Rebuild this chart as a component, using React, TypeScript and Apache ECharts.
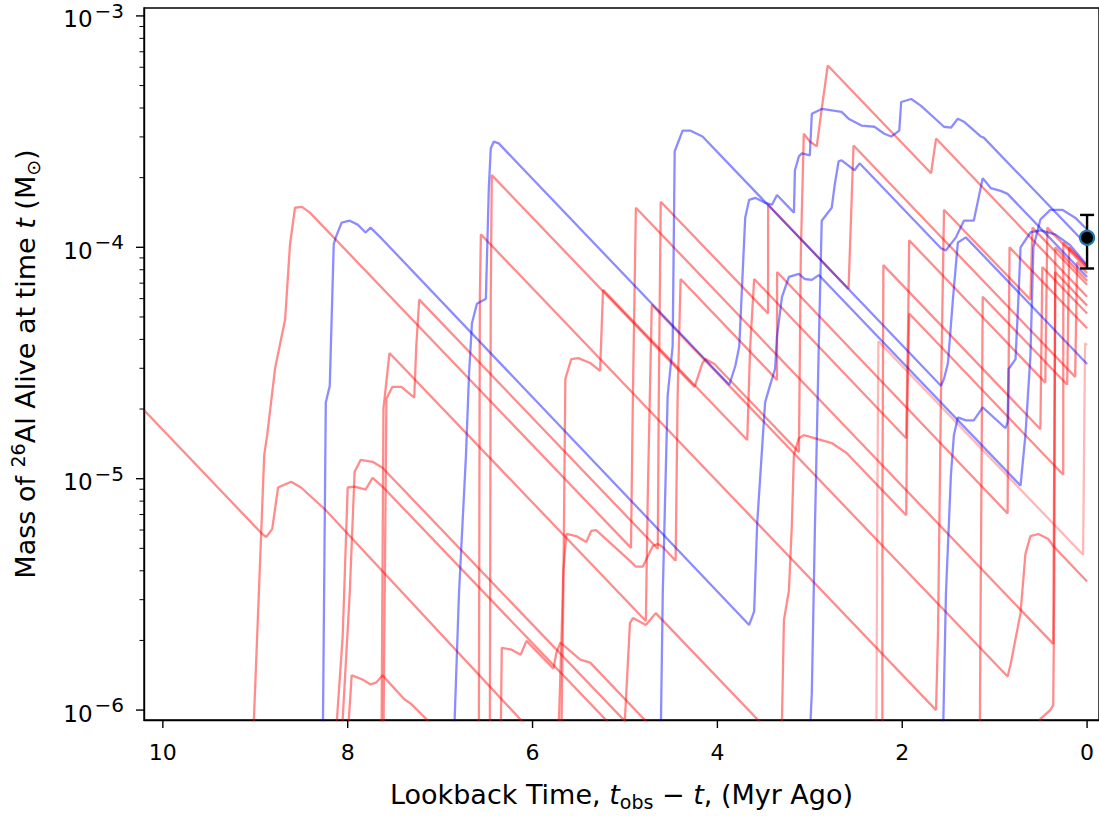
import React, { useEffect, useRef } from "react";
import * as echarts from "echarts";

// Each track: [lookback time t_obs - t (Myr), log10 of 26Al mass alive (Msun)]
const red01 = [[10.2,-4.705],[8.925,-5.239],[8.882,-5.252],[8.817,-5.218],[8.753,-5.038],[8.613,-5.013],[8.505,-5.038],[8.247,-5.132],[5.957,-6.115]];
const red02 = [[9.022,-6.115],[8.903,-4.897],[8.871,-4.812],[8.785,-4.521],[8.677,-4.312],[8.624,-3.987],[8.57,-3.829],[8.495,-3.825],[8.409,-3.85],[4.935,-5.299],[4.914,-4.641],[4.882,-3.829],[0.366,-5.714],[0.355,-4.855],[0.344,-4.107],[0,-4.252]];
const red03 = [[8.129,-6.115],[8.054,-5.679],[8.0,-5.038],[7.925,-5.034],[7.806,-5.047],[7.731,-4.996],[7.624,-5.034],[5.032,-6.115]];
const red04 = [[8.065,-6.115],[7.978,-5.496],[7.925,-4.97],[7.86,-4.919],[7.731,-4.927],[7.624,-4.953],[4.839,-6.115]];
const red05 = [[7.634,-6.115],[7.613,-4.697],[7.548,-4.457],[4.774,-5.615],[4.753,-5.068],[4.71,-4.248],[0.86,-5.855],[0.828,-5.803],[0.72,-5.581],[0.667,-5.325],[0.613,-5.248],[0.527,-5.239],[0.419,-5.261],[0.366,-5.291],[0,-5.444]];
const red06 = [[8.0,-6.115],[7.957,-5.85],[7.839,-5.868],[7.753,-5.889],[7.688,-5.88],[7.624,-5.85],[7.387,-5.953],[7.312,-5.974],[6.957,-6.115]];
const red07 = [[6.581,-6.115],[6.57,-4.214],[6.559,-3.944],[1.634,-6.0],[1.613,-5.667],[1.581,-4.641],[1.548,-3.838],[0.613,-4.226],[0.591,-3.915],[0,-4.162]];
const red08 = [[6.462,-6.115],[6.452,-4.214],[6.441,-3.688],[4.247,-4.603],[4.161,-4.5],[4.129,-4.483],[4.032,-4.504],[3.118,-4.885],[3.097,-4.021],[3.065,-3.509],[3.0,-3.543],[2.925,-3.564],[2.871,-3.402],[2.806,-3.214],[1.688,-3.68],[1.634,-3.53],[0,-4.214]];
const red09 = [[5.688,-6.115],[5.667,-5.496],[5.645,-4.568],[5.581,-4.483],[5.505,-4.479],[5.376,-4.5],[5.269,-4.534],[5.237,-4.184],[3.677,-4.833],[3.645,-4.427],[3.602,-4.137],[1.957,-4.825],[1.935,-4.299],[1.925,-3.97],[0.452,-4.585],[0.43,-3.915],[0,-4.094]];
const red10 = [[7.613,-6.115],[7.581,-4.654],[7.516,-4.603],[7.419,-4.603],[7.28,-4.65],[7.258,-4.427],[7.226,-4.226],[4.645,-5.303],[4.634,-4.641],[4.613,-3.803],[3.452,-4.286],[3.451,-3.816],[2.581,-4.18],[2.527,-3.56],[0.129,-4.56],[0.108,-4.064],[0,-4.111]];
const red11 = [[5.72,-6.115],[5.688,-5.709],[5.667,-5.397],[5.634,-5.239],[5.527,-5.248],[5.419,-5.274],[5.366,-5.226],[5.312,-5.222],[4.946,-5.355],[4.882,-5.38],[4.806,-5.38],[4.699,-5.291],[4.645,-5.282],[4.591,-5.295],[4.452,-5.355],[4.43,-4.641],[4.398,-4.137],[3.355,-4.573],[3.354,-4.107],[0.86,-5.15],[0.839,-4.0],[0,-4.35]];
const red12 = [[6.344,-6.115],[6.333,-5.731],[6.226,-5.739],[6.129,-5.761],[6.065,-5.701],[5.774,-5.821],[5.742,-5.752],[5.699,-5.709],[5.484,-5.782],[5.376,-5.795],[4.613,-6.115]];
const red13 = [[5.022,-6.115],[5.0,-6.038],[4.946,-5.624],[4.914,-5.602],[4.774,-5.632],[4.667,-5.581],[3.387,-6.115]];
const red14 = [[3.312,-6.115],[3.301,-6.038],[3.28,-5.611],[3.226,-5.483],[3.194,-5.197],[3.172,-4.897],[3.118,-4.825],[3.065,-4.812],[2.978,-4.821],[2.763,-4.846],[2.602,-4.889],[1.957,-5.158],[1.946,-4.726],[1.925,-4.286],[0.258,-4.983],[0.257,-3.979],[0,-4.085]];
const red15 = [[0.527,-6.115],[0.505,-6.038],[0.398,-6.0],[0.366,-5.979],[0.355,-5.496],[0.344,-4.0],[0,-4.145]];
const red16 = [[2.215,-6.115],[2.214,-5.068],[2.204,-4.077],[0.505,-4.786],[0.484,-4.085],[0,-4.286]];
const red17 = [[1.161,-6.115],[1.151,-5.496],[1.129,-4.214],[0.215,-4.594],[0.194,-4.0],[0,-4.081]];
const faint01 = [[2.28,-6.115],[2.269,-5.068],[2.258,-4.406],[0.043,-5.329],[0.022,-4.415],[0,-4.423]];

const blue01 = [[8.269,-6.115],[8.237,-4.671],[8.194,-4.598],[8.151,-3.987],[8.129,-3.957],[8.065,-3.893],[7.978,-3.885],[7.892,-3.902],[7.806,-3.936],[7.753,-3.915],[7.624,-3.966],[3.656,-5.632],[3.602,-5.573],[3.57,-5.197],[3.484,-4.671],[3.441,-4.611],[3.376,-4.526],[3.355,-4.385],[3.301,-4.214],[3.226,-4.128],[3.118,-4.115],[3.054,-4.137],[2.978,-4.141],[2.903,-4.12],[0.72,-5.03],[0.667,-4.812],[0.613,-4.47],[0.581,-4.0],[0.505,-3.88],[0.398,-3.838],[0.269,-3.838],[0.129,-3.872],[0,-3.923]];
const blue02 = [[6.849,-6.115],[6.796,-5.496],[6.72,-4.897],[6.688,-4.556],[6.656,-4.329],[6.602,-4.244],[6.505,-4.222],[6.473,-3.744],[6.452,-3.573],[6.419,-3.543],[6.366,-3.551],[3.871,-4.594],[3.806,-4.513],[3.763,-4.427],[3.699,-3.872],[3.656,-3.795],[3.591,-3.786],[3.484,-3.808],[3.409,-3.816],[3.355,-3.774],[3.172,-3.85],[3.161,-3.667],[3.118,-3.607],[3.086,-3.594],[3.0,-3.603],[2.978,-3.423],[2.871,-3.402],[2.656,-3.415],[2.581,-3.444],[2.441,-3.474],[2.301,-3.479],[2.194,-3.509],[2.118,-3.521],[2.032,-3.496],[2.011,-3.372],[1.903,-3.359],[1.796,-3.389],[1.548,-3.479],[1.473,-3.483],[1.398,-3.444],[1.333,-3.457],[1.151,-3.521],[1.118,-3.526],[0,-3.991]];
const blue03 = [[3.0,-6.115],[2.978,-5.923],[2.946,-5.239],[2.903,-4.427],[2.871,-3.885],[2.763,-3.829],[2.731,-3.731],[2.688,-3.628],[2.656,-3.624],[2.516,-3.667],[2.462,-3.637],[1.581,-4.004],[1.527,-4.013],[1.419,-3.957],[1.333,-3.885],[1.226,-3.885],[1.129,-3.701],[1.043,-3.744],[0.935,-3.756],[0.86,-3.769],[0,-4.128]];
const blue04 = [[4.613,-6.115],[4.591,-5.496],[4.538,-4.641],[4.484,-4.427],[4.462,-3.585],[4.376,-3.496],[4.29,-3.496],[4.161,-3.521],[1.581,-4.598],[1.548,-4.568],[1.505,-4.5],[1.452,-4.226],[1.398,-3.979],[1.312,-3.957],[0.86,-4.145],[0,-4.504]];
const blue05 = [[1.559,-6.115],[1.527,-5.496],[1.473,-4.983],[1.441,-4.812],[1.398,-4.735],[1.312,-4.748],[1.226,-4.748],[1.129,-4.692],[0.882,-4.782],[0.86,-4.756],[0.849,-4.526],[0.774,-4.483],[0.742,-4.214],[0.72,-4.0],[0.613,-3.936],[0.505,-3.927],[0.344,-3.944],[0.183,-3.991],[0,-4.077]];

const redTracks = [red01, red02, red03, red04, red05, red06, red07, red08, red09, red10, red11, red12, red13, red14, red15, red16, red17];
const faintTracks = [faint01];
const blueTracks = [blue01, blue02, blue03, blue04, blue05];

// Observed 26Al mass with error bar (Msun) at t_obs - t = 0: [t, value, low, high]
const observed = [[0, 1.1e-4, 8.1e-5, 1.38e-4]];

const xTicks = [0, 2, 4, 6, 8, 10];
const xRange = [-0.129, 10.204];
const yRange = [9.06e-7, 1.082e-3];
const yMajorTicks = [1e-6, 1e-5, 1e-4, 1e-3];
const yMinorTicks = [
  2e-6, 3e-6, 4e-6, 5e-6, 6e-6, 7e-6, 8e-6, 9e-6,
  2e-5, 3e-5, 4e-5, 5e-5, 6e-5, 7e-5, 8e-5, 9e-5,
  2e-4, 3e-4, 4e-4, 5e-4, 6e-4, 7e-4, 8e-4, 9e-4,
];

const FONT = "DejaVu Sans";
const ALPHA = 0.45;

export default function App() {
  const ref = useRef<HTMLDivElement>(null);

  useEffect(() => {
    const chart = echarts.init(ref.current as HTMLDivElement, null, { renderer: "svg" });

    const track = (pts: number[][], color: string, opacity: number) => ({
      type: "line",
      data: pts.map(([t, lg]) => [t, Math.pow(10, lg)]),
      showSymbol: false,
      symbol: "none",
      silent: true,
      clip: true,
      xAxisIndex: 0,
      yAxisIndex: 0,
      lineStyle: { color, width: 2.3, opacity },
      emphasis: { disabled: true },
      z: 2,
    });

    const series: any[] = [
      ...redTracks.map((p) => track(p, "#ff0000", ALPHA)),
      ...faintTracks.map((p) => track(p, "#ff0000", 0.28)),
      ...blueTracks.map((p) => track(p, "#0000ff", ALPHA)),
      {
        type: "custom",
        xAxisIndex: 0,
        yAxisIndex: 0,
        silent: true,
        z: 9,
        data: observed,
        renderItem: (params: any, api: any) => {
          const c = api.coord([api.value(0), api.value(1)]);
          const lo = api.coord([api.value(0), api.value(2)]);
          const hi = api.coord([api.value(0), api.value(3)]);
          const st = { stroke: "#000", lineWidth: 2.4 };
          return {
            type: "group",
            children: [
              { type: "line", shape: { x1: c[0], y1: lo[1], x2: c[0], y2: hi[1] }, style: st },
              { type: "line", shape: { x1: c[0] - 7, y1: lo[1], x2: c[0] + 7, y2: lo[1] }, style: st },
              { type: "line", shape: { x1: c[0] - 7, y1: hi[1], x2: c[0] + 7, y2: hi[1] }, style: st },
            ],
          };
        },
      },
      {
        type: "scatter",
        xAxisIndex: 0,
        yAxisIndex: 0,
        silent: true,
        z: 10,
        symbol: "circle",
        symbolSize: 14,
        data: observed.map((d) => [d[0], d[1]]),
        itemStyle: { color: "#000", borderColor: "#1f77b4", borderWidth: 2.2, opacity: 1 },
      },
    ];

    const option: any = {
      animation: false,
      backgroundColor: "#fff",
      grid: {
        left: 138,
        top: 8,
        width: 961,
        height: 720,
        show: true,
        borderColor: "#000",
        borderWidth: 1.4,
        backgroundColor: "transparent",
      },
      xAxis: {
        type: "value",
        inverse: true,
        min: xRange[0],
        max: xRange[1],
        axisLine: { show: true, onZero: false, lineStyle: { color: "#000", width: 1.4 } },
        axisTick: { show: false },
        axisLabel: { show: true, customValues: xTicks, margin: 21, color: "#000", fontSize: 22, fontFamily: FONT },
        splitLine: { show: false },
        name: "{n|Lookback Time, }{i|t}{sub|obs}{n| − }{i|t}{n|, (Myr Ago)}",
        nameLocation: "middle",
        nameGap: 57,
        nameTextStyle: {
          color: "#000",
          fontSize: 27,
          fontFamily: FONT,
          rich: {
            n: { fontSize: 27, fontFamily: FONT, color: "#000", lineHeight: 34 },
            i: { fontSize: 27, fontFamily: FONT, fontStyle: "italic", color: "#000", lineHeight: 34 },
            sub: { fontSize: 19, fontFamily: FONT, color: "#000", lineHeight: 18, verticalAlign: "bottom" },
          },
        },
      },
      yAxis: {
        type: "log",
        logBase: 10,
        min: yRange[0],
        max: yRange[1],
        axisLine: { show: true, onZero: false, lineStyle: { color: "#000", width: 1.4 } },
        axisTick: { show: false },
        axisLabel: {
          show: true,
          customValues: yMajorTicks,
          margin: 20,
          formatter: (v: number) => `{b|10}{s|−${Math.round(-Math.log10(v))}}`,
          rich: {
            b: { fontSize: 23, fontFamily: FONT, color: "#000", lineHeight: 30, verticalAlign: "bottom" },
            s: { fontSize: 20, fontFamily: FONT, color: "#000", lineHeight: 20, verticalAlign: "top", padding: [0, 0, 0, 2] },
          },
        },
        splitLine: { show: false },
        name: "{n|Mass of }{sup|26}{n|Al Alive at time }{i|t}{n| (M}{sub|⊙}{n|)}",
        nameLocation: "middle",
        nameRotate: 90,
        nameGap: 102,
        nameTextStyle: {
          color: "#000",
          fontSize: 27,
          fontFamily: FONT,
          rich: {
            n: { fontSize: 27, fontFamily: FONT, color: "#000", lineHeight: 34 },
            i: { fontSize: 27, fontFamily: FONT, fontStyle: "italic", color: "#000", lineHeight: 34 },
            sup: { fontSize: 19, fontFamily: FONT, color: "#000", lineHeight: 18, verticalAlign: "top" },
            sub: { fontSize: 19, fontFamily: FONT, color: "#000", lineHeight: 18, verticalAlign: "bottom" },
          },
        },
      },
      series,
    };

    chart.setOption(option);

    // Tick marks placed through the chart's own axis scales
    const corner = chart.convertToPixel({ gridIndex: 0 }, [xRange[1], yRange[0]]) as number[];
    const axisX = corner[0];
    const axisY = corner[1];
    const tickStyle = { stroke: "#000", lineWidth: 1.4 };
    const ticks: any[] = [];
    xTicks.forEach((v) => {
      const px = chart.convertToPixel({ xAxisIndex: 0 }, v) as number;
      ticks.push({ type: "line", silent: true, shape: { x1: px, y1: axisY, x2: px, y2: axisY + 8 }, style: tickStyle });
    });
    yMajorTicks.forEach((v) => {
      const py = chart.convertToPixel({ yAxisIndex: 0 }, v) as number;
      ticks.push({ type: "line", silent: true, shape: { x1: axisX - 8, y1: py, x2: axisX, y2: py }, style: tickStyle });
    });
    yMinorTicks.forEach((v) => {
      const py = chart.convertToPixel({ yAxisIndex: 0 }, v) as number;
      ticks.push({ type: "line", silent: true, shape: { x1: axisX - 4.5, y1: py, x2: axisX, y2: py }, style: { stroke: "#000", lineWidth: 1 } });
    });
    chart.setOption({ graphic: { elements: ticks } });

    return () => chart.dispose();
  }, []);

  return (
    <div
      ref={ref}
      style={{ position: "fixed", left: 0, top: 0, width: 1099, height: 816, background: "#fff" }}
    />
  );
}
